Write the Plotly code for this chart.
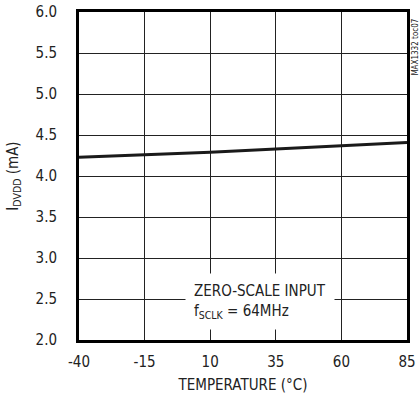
import plotly.graph_objects as go

temps = [-40, -15, 10, 35, 60, 85]
idvdd = [4.23, 4.26, 4.29, 4.33, 4.37, 4.41]
x_ticks = [-40, -15, 10, 35, 60, 85]
y_ticks = [2.0, 2.5, 3.0, 3.5, 4.0, 4.5, 5.0, 5.5, 6.0]

FONT = "DejaVu Sans Condensed, Liberation Sans Narrow, sans-serif"

fig = go.Figure()
fig.add_trace(go.Scatter(x=temps, y=idvdd, mode="lines",
                         line=dict(color="#1a1a1a", width=3), showlegend=False,
                         hoverinfo="skip"))

fig.update_layout(
    width=420, height=402,
    margin=dict(l=79, r=13, t=12, b=62, autoexpand=False),
    paper_bgcolor="white", plot_bgcolor="white",
    font=dict(family=FONT, size=15, color="#222"),
    xaxis=dict(range=[-40, 85], tickvals=x_ticks, ticktext=[str(v) for v in x_ticks],
               showgrid=True, gridcolor="#222", gridwidth=1,
               showline=True, linecolor="black", linewidth=3, mirror=True,
               ticks="", zeroline=False, ticklabelstandoff=6, automargin=False,
               title=dict(text="TEMPERATURE (°C)", font=dict(family=FONT, size=15), standoff=10)),
    yaxis=dict(range=[2.0, 6.0], tickvals=y_ticks, ticktext=[f"{v:.1f}" for v in y_ticks],
               showgrid=True, gridcolor="#222", gridwidth=1,
               showline=True, linecolor="black", linewidth=3, mirror=True,
               ticks="", zeroline=False, ticklabelstandoff=16, automargin=False,
               title=dict(text="I<sub>DVDD</sub> (mA)", font=dict(family=FONT, size=15), standoff=14)),
)

fig.add_annotation(xref="x", yref="y", x=29, y=2.47,
                   text="ZERO-SCALE INPUT<br>f<sub>SCLK</sub> = 64MHz",
                   showarrow=False, align="left", bgcolor="white",
                   borderpad=8, font=dict(family=FONT, size=15, color="#222"))

fig.add_annotation(xref="paper", yref="paper", x=1.0, y=0.893, xanchor="left", yanchor="middle",
                   xshift=2,
                   text="MAX1332 toc07", textangle=-90, showarrow=False,
                   font=dict(family=FONT, size=8, color="#222"))

fig.write_html("out.html", config={"displayModeBar": False},
               post_script="document.body.style.margin='0';document.body.style.padding='0';")
